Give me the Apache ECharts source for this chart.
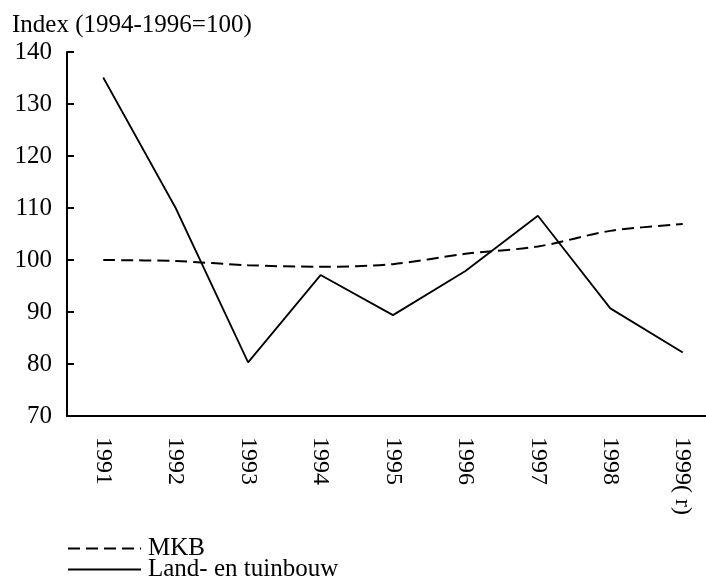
<!DOCTYPE html>
<html lang="nl">
<head>
	<meta charset="UTF-8">
	<title>Index MKB en land- en tuinbouw</title>
	<style>
		html, body { margin: 0; padding: 0; background: #fff; }
	</style>
</head>
<body>
	<div id="container" style="width: 706px;height:578px;"></div>

	<script src="https://cdn.jsdelivr.net/npm/echarts@6/dist/echarts.min.js"></script>
	<script>
        // data
        var years = ['1991', '1992', '1993', '1994', '1995', '1996', '1997', '1998', '1999( r)'];
        var mkb = [100, 99.8, 99.0, 98.7, 99.2, 101.2, 102.6, 105.6, 106.9];
        var landTuinbouw = [135.1, 110, 80.3, 97.1, 89.4, 97.9, 108.5, 90.7, 82.2];
        var yTicks = [70, 80, 90, 100, 110, 120, 130, 140];

        var font = '"Liberation Serif", "Times New Roman", serif';

        function legendAt(name, top) {
            return {
                orient: 'vertical',
                left: 67,
                top: top,
                padding: 0,
                itemWidth: 73,
                itemHeight: 14,
                itemGap: 0,
                itemStyle: { opacity: 0 },
                textStyle: { fontFamily: font, fontSize: 25, color: '#000', padding: [0, 0, 0, 2] },
                data: [name]
            };
        }

        var option = {
            animation: false,
            textStyle: { fontFamily: font, color: '#000' },
            title: {
                text: 'Index (1994-1996=100)',
                left: 12,
                top: 13,
                padding: 0,
                textStyle: { fontFamily: font, fontSize: 25, fontWeight: 'normal', color: '#000' }
            },
            legend: [legendAt('MKB', 536), legendAt('Land- en tuinbouw', 557)],
            grid: {
                left: 67,
                top: 52,
                width: 652,
                bottom: 162,
                outerBoundsMode: 'none'
            },
            xAxis: {
                type: 'category',
                data: years,
                boundaryGap: true,
                axisLine: { lineStyle: { color: '#000', width: 2 } },
                axisTick: { inside: true, length: 7, lineStyle: { color: '#000', width: 2 } },
                axisLabel: {
                    rotate: -90,
                    margin: 21,
                    fontFamily: font,
                    fontSize: 24,
                    color: '#000'
                }
            },
            yAxis: {
                type: 'value',
                min: yTicks[0],
                max: yTicks[yTicks.length - 1],
                interval: 10,
                splitLine: { show: false },
                axisLine: { show: true, lineStyle: { color: '#000', width: 2 } },
                axisTick: { show: true, inside: true, length: 7, lineStyle: { color: '#000', width: 2 } },
                axisLabel: {
                    margin: 15,
                    fontFamily: font,
                    fontSize: 25,
                    color: '#000'
                }
            },
            series: [{
                name: 'MKB',
                type: 'line',
                data: mkb,
                symbol: 'none',
                smooth: 0.3,
                lineStyle: { color: '#000', width: 2, type: [12, 6] },
                itemStyle: { color: '#000' }
            }, {
                name: 'Land- en tuinbouw',
                type: 'line',
                data: landTuinbouw,
                symbol: 'none',
                lineStyle: { color: '#000', width: 1.8, type: 'solid' },
                itemStyle: { color: '#000' }
            }]
        };
        var myChart = echarts.init(document.getElementById('container'));
        myChart.setOption(option);
    </script>
</body>
</html>
